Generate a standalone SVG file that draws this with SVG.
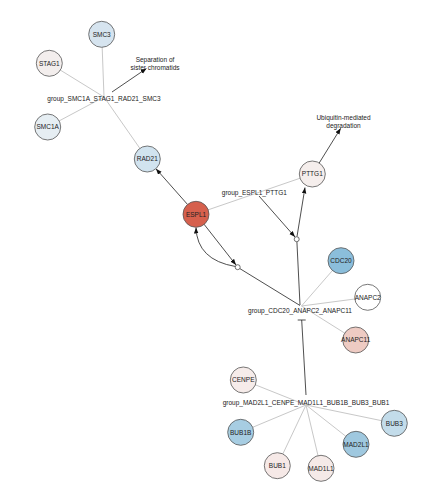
<svg xmlns="http://www.w3.org/2000/svg" width="432" height="502" viewBox="0 0 432 502">
<style>
text{font-family:"Liberation Sans",Arial,sans-serif;font-size:6.5px;fill:#222;text-anchor:middle}
.n{stroke:#555;stroke-width:0.8}
.g{stroke:#c8c8c8;stroke-width:1;fill:none}
.a{stroke:#222;stroke-width:0.8;fill:none}
.r{fill:#fff;stroke:#333;stroke-width:0.7}
</style>
<defs>
<marker id="arr" markerUnits="userSpaceOnUse" markerWidth="6" markerHeight="5" refX="6" refY="2.3" orient="auto">
<path d="M0,0 L6,2.3 L0,4.6 z" fill="#111"/>
</marker>
</defs>
<rect width="432" height="502" fill="#fff"/>
<g id="connectors">
<line class="g" x1="101.7" y1="34.3" x2="104" y2="97"/>
<line class="g" x1="49.3" y1="63.3" x2="104" y2="97"/>
<line class="g" x1="47.7" y1="127" x2="104" y2="97"/>
<line class="g" x1="147.3" y1="159" x2="104" y2="97"/>
<line class="g" x1="196" y1="214" x2="312.3" y2="174"/>
<line class="g" x1="341" y1="260.7" x2="301.5" y2="306"/>
<line class="g" x1="367.7" y1="297.3" x2="301.5" y2="306"/>
<line class="g" x1="355.7" y1="340" x2="301.5" y2="306"/>
<line class="g" x1="243.3" y1="380" x2="306" y2="405"/>
<line class="g" x1="240.7" y1="432.3" x2="306" y2="405"/>
<line class="g" x1="277.3" y1="465.7" x2="306" y2="405"/>
<line class="g" x1="321" y1="468.3" x2="306" y2="405"/>
<line class="g" x1="356" y1="444.3" x2="306" y2="405"/>
<line class="g" x1="394.3" y1="423.3" x2="306" y2="405"/>
<line class="a" x1="112" y1="92" x2="146.5" y2="68.5" marker-end="url(#arr)"/>
<line class="a" x1="187.4" y1="204.3" x2="155.9" y2="168.7" marker-end="url(#arr)"/>
<line class="a" x1="319.2" y1="163" x2="340.7" y2="128.3" marker-end="url(#arr)"/>
<line class="a" x1="259" y1="196" x2="295" y2="237" marker-end="url(#arr)"/>
<line class="a" x1="297" y1="236.5" x2="305" y2="187.5" marker-end="url(#arr)"/>
<line class="a" x1="204" y1="224.2" x2="236" y2="265" marker-end="url(#arr)"/>
<path class="a" d="M235.5,266.5 Q197,260 196,227.5" marker-end="url(#arr)"/>
<line class="a" x1="240" y1="268.7" x2="300" y2="305.5"/>
<line class="a" x1="296.9" y1="241.5" x2="300" y2="305"/>
<line class="a" x1="306" y1="395" x2="301.7" y2="320"/>
<line class="a" x1="297.7" y1="320" x2="305.7" y2="320"/>
<circle class="r" cx="237.7" cy="267.2" r="2.5"/>
<circle class="r" cx="296.7" cy="239.2" r="2.5"/>
</g>
<g id="group_SMC1A_STAG1_RAD21_SMC3"><text x="104" y="101.3">group_SMC1A_STAG1_RAD21_SMC3</text></g>
<g id="group_ESPL1_PTTG1"><text x="254.3" y="194.5">group_ESPL1_PTTG1</text></g>
<g id="group_CDC20_ANAPC2_ANAPC11"><text x="300" y="313.3">group_CDC20_ANAPC2_ANAPC11</text></g>
<g id="group_MAD2L1_CENPE_MAD1L1_BUB1B_BUB3_BUB1"><text x="306" y="404.6">group_MAD2L1_CENPE_MAD1L1_BUB1B_BUB3_BUB1</text></g>
<g id="sep"><text x="155" y="62.3">Separation of</text><text x="155" y="70">sister chromatids</text></g>
<g id="ubi"><text x="343.5" y="119.6">Ubiquitin-mediated</text><text x="343.5" y="127.6">degradation</text></g>
<g id="SMC3"><circle class="n" cx="101.7" cy="34.3" r="13" fill="#d6e4ef"/><text x="101.7" y="36.6">SMC3</text></g>
<g id="STAG1"><circle class="n" cx="49.3" cy="63.3" r="13" fill="#f3eeed"/><text x="49.3" y="65.6">STAG1</text></g>
<g id="SMC1A"><circle class="n" cx="47.7" cy="127" r="13" fill="#e6eef3"/><text x="47.7" y="129.3">SMC1A</text></g>
<g id="RAD21"><circle class="n" cx="147.3" cy="159" r="13" fill="#d1e3ef"/><text x="147.3" y="161.3">RAD21</text></g>
<g id="ESPL1"><circle class="n" cx="196" cy="214.3" r="13" fill="#d6604d"/><text x="196" y="216.6">ESPL1</text></g>
<g id="PTTG1"><circle class="n" cx="312.3" cy="174" r="13" fill="#f5eeec"/><text x="312.3" y="176.3">PTTG1</text></g>
<g id="CDC20"><circle class="n" cx="341" cy="260.7" r="13" fill="#8bbedb"/><text x="341" y="263">CDC20</text></g>
<g id="ANAPC2"><circle class="n" cx="367.7" cy="297.3" r="13" fill="#ffffff"/><text x="367.7" y="299.6">ANAPC2</text></g>
<g id="ANAPC11"><circle class="n" cx="355.7" cy="340" r="13" fill="#eecbc3"/><text x="355.7" y="342.3">ANAPC11</text></g>
<g id="CENPE"><circle class="n" cx="243.3" cy="380" r="13" fill="#f6ecea"/><text x="243.3" y="382.3">CENPE</text></g>
<g id="BUB1B"><circle class="n" cx="240.7" cy="432.3" r="13" fill="#a7cde2"/><text x="240.7" y="434.6">BUB1B</text></g>
<g id="BUB1"><circle class="n" cx="277.3" cy="465.7" r="13" fill="#f6e9e7"/><text x="277.3" y="468">BUB1</text></g>
<g id="MAD1L1"><circle class="n" cx="321" cy="468.3" r="13" fill="#f5eae8"/><text x="321" y="470.6">MAD1L1</text></g>
<g id="MAD2L1"><circle class="n" cx="356" cy="444.3" r="13" fill="#9fc8df"/><text x="356" y="446.6">MAD2L1</text></g>
<g id="BUB3"><circle class="n" cx="394.3" cy="423.3" r="13" fill="#c3dcea"/><text x="394.3" y="425.6">BUB3</text></g>
</svg>
